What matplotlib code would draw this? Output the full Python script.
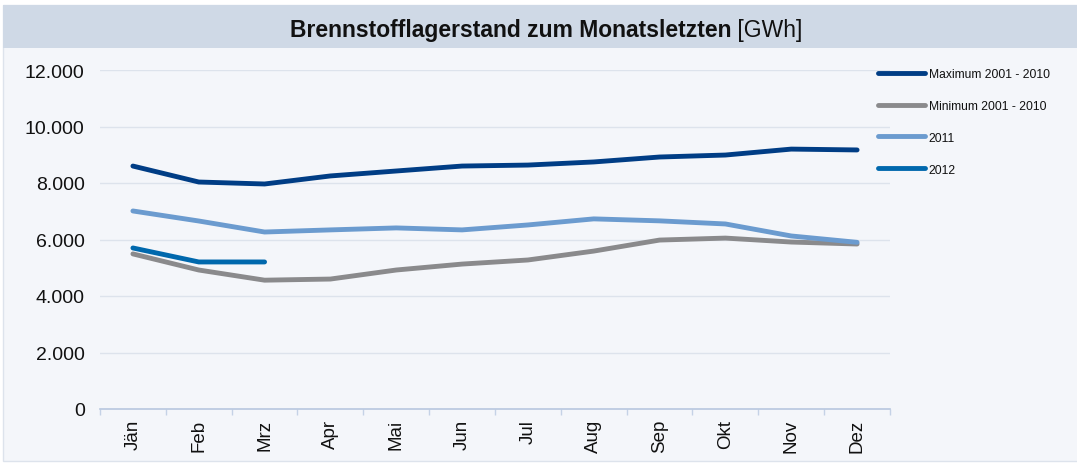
import matplotlib
matplotlib.use("Agg")
import matplotlib.pyplot as plt
from matplotlib.patches import Rectangle
import numpy as np

months = ["Jän", "Feb", "Mrz", "Apr", "Mai", "Jun", "Jul", "Aug", "Sep", "Okt", "Nov", "Dez"]
max_2001_2010 = [8600, 8035, 7965, 8250, 8425, 8600, 8635, 8745, 8920, 8990, 9200, 9170]
min_2001_2010 = [5490, 4920, 4560, 4600, 4920, 5130, 5275, 5590, 5980, 6050, 5910, 5840]
y2011 = [7010, 6655, 6265, 6340, 6410, 6340, 6515, 6730, 6660, 6550, 6125, 5900]
y2012 = [5700, 5205, 5205]
yticks = [0, 2000, 4000, 6000, 8000, 10000, 12000]
ytick_labels = ["0", "2.000", "4.000", "6.000", "8.000", "10.000", "12.000"]

plt.rcParams['font.family'] = ['Liberation Sans', 'DejaVu Sans']
W, H = 1077, 464
fig = plt.figure(figsize=(W / 100, H / 100), dpi=100)
fig.patch.set_facecolor("white")

# background panel and title band
fig.add_artist(Rectangle((3 / W, 2 / H), (W - 2) / W, (H - 8) / H, transform=fig.transFigure,
                         facecolor="#f4f6fa", edgecolor="#dde3ec", lw=1, zorder=-2))
fig.add_artist(Rectangle((3 / W, 1 - 49 / H), (W - 3) / W, 43 / H, transform=fig.transFigure,
                         facecolor="#cfd9e6", edgecolor="none", zorder=-1))

ax = fig.add_axes([100 / W, 1 - 410 / H, (890 - 100) / W, (410 - 71) / H])
ax.set_facecolor("none")
x = np.arange(len(months))
ax.set_xlim(-0.5, len(months) - 0.5)
ax.set_ylim(0, 12000)

for yv in yticks[1:]:
    ax.axhline(yv, color="#dde3ec", lw=1, zorder=0)

l1, = ax.plot(x, max_2001_2010, color="#003d85", lw=3.5, solid_capstyle="round", label="Maximum 2001 - 2010")
l2, = ax.plot(x, min_2001_2010, color="#8a8a8c", lw=3.5, solid_capstyle="round", label="Minimum 2001 - 2010")
l3, = ax.plot(x, y2011, color="#6b9bcf", lw=3.5, solid_capstyle="round", label="2011")
l4, = ax.plot(np.arange(len(y2012)), y2012, color="#0068ad", lw=3.5, solid_capstyle="round", label="2012")

ax.set_yticks(yticks)
ax.set_yticklabels(ytick_labels, fontsize=14, color="#111111")
ax.tick_params(axis="y", length=0, pad=11)
ax.set_xticks(x)
ax.set_xticklabels(months, rotation=90, fontsize=13.5, color="#111111")
ax.tick_params(axis="x", length=0, pad=7)
ax.set_xticks(np.arange(-0.5, len(months), 1), minor=True)
ax.tick_params(axis="x", which="minor", length=4, color="#c5d2e6", width=1)
for s in ["top", "right", "left"]:
    ax.spines[s].set_visible(False)
ax.spines["bottom"].set_color("#b7c7df")
ax.spines["bottom"].set_linewidth(1.2)

leg = fig.legend(handles=[l1, l2, l3, l4], loc="upper left", bbox_to_anchor=(873 / W, 1 - 64 / H),
                 frameon=False, fontsize=8.7, handlelength=3.9, handletextpad=0.3, labelspacing=1.65,
                 borderaxespad=0)
for t in leg.get_texts():
    t.set_color("#111111")

# title: bold part + normal part
fig.canvas.draw()
r = fig.canvas.get_renderer()
t1 = fig.text(0, 1 - 30 / H, "Brennstofflagerstand zum Monatsletzten", fontsize=16.5, fontweight="bold",
              va="center", ha="left", color="#111111")
t2 = fig.text(0, 1 - 30 / H, " [GWh]", fontsize=16.5, va="center", ha="left", color="#111111")
w1 = t1.get_window_extent(r).width
w2 = t2.get_window_extent(r).width
start = 546 - (w1 + w2) / 2
t1.set_x(start / W)
t2.set_x((start + w1) / W)

fig.savefig("out.png", dpi=100, facecolor="white")
